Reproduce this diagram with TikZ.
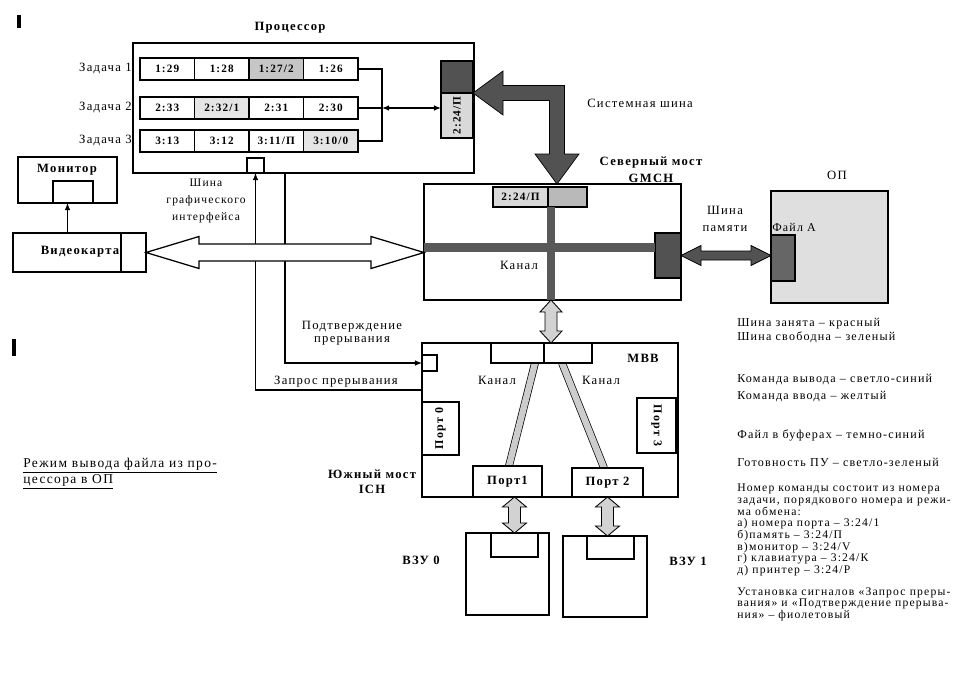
\documentclass[tikz,border=0pt]{standalone}
\usepackage{fontspec}
\setmainfont[LetterSpace=10]{Liberation Serif}
\usetikzlibrary{calc,arrows.meta}

\tikzset{
  box/.style={draw, line width=0.9pt, inner sep=0pt, outer sep=0pt, fill=white},
  sz/.style 2 args={minimum width=#1*0.25mm, minimum height=#2*0.25mm},
  lbl/.style={inner sep=0pt, align=center, font=\fontsize{9}{12}\selectfont},
  blbl/.style={lbl, font=\fontsize{9}{12}\selectfont\bfseries},
  cell/.style={box, sz={54.5}{22}, font=\fontsize{8}{9}\selectfont\bfseries},
  legend/.style={inner sep=0pt, anchor=north west, align=left, font=\fontsize{8.3}{8.3}\selectfont},
  sig/.style={line width=0.8pt, -{Latex[length=5pt,width=4pt]}},
  darkfill/.style={fill=black!68, draw=black, line width=0.5pt},
  lightfill/.style={fill=gray!35, draw=black, line width=0.6pt},
  openfill/.style={fill=white, draw=black, line width=0.9pt},
  darkbar/.style={line width=2.1mm, draw=black!65},
  lightbar/.style={draw=black, line width=0.5pt, double=gray!40, double distance=1.6mm}
}

% block arrows with a head at each end: [style]{from}{to}{shaft}{head}{head length}
\newcommand{\BusH}[6][]{%
  \filldraw[#1] (#2) -- ++(#6,-#5) -- ++(0,#5-#4) -- ($(#2 -| #3)+(-#6,-#4)$) -- ++(0,#4-#5)
    -- (#2 -| #3) -- ++(-#6,#5) -- ++(0,#4-#5) -- ($(#2)+(#6,#4)$) -- ++(0,#5-#4) -- cycle;}
\newcommand{\BusV}[6][]{%
  \filldraw[#1] (#2) -- ++(#5,#6) -- ++(#4-#5,0) -- ($(#2 |- #3)+(#4,-#6)$) -- ++(#5-#4,0)
    -- (#2 |- #3) -- ++(-#5,-#6) -- ++(#5-#4,0) -- ($(#2)+(-#4,#6)$) -- ++(#4-#5,0) -- cycle;}

\begin{document}
\begin{tikzpicture}[x=0.25mm, y=-0.25mm]
\useasboundingbox (0,0) rectangle (973,679);

\fill (17,15) rectangle (21,28);
\fill (12,339) rectangle (16,356);

% processor
\node[box, sz={341}{130}] (proc) at (303.5,108) {};
\node[blbl] (procl) at (290,28) {Процессор};
\node[lbl, anchor=east] (task1) at (132,69) {Задача 1};
\node[lbl, anchor=east] (task2) at (132,108) {Задача 2};
\node[lbl, anchor=east] (task3) at (132,141) {Задача 3};

\node[cell] (c11) at (167.25,69) {1:29};
\node[cell] (c12) at (221.75,69) {1:28};
\node[cell, fill=gray!45] (c13) at (276.25,69) {1:27/2};
\node[cell] (c14) at (330.75,69) {1:26};
\node[cell] (c21) at (167.25,108) {2:33};
\node[cell, fill=gray!20] (c22) at (221.75,108) {2:32/1};
\node[cell] (c23) at (276.25,108) {2:31};
\node[cell] (c24) at (330.75,108) {2:30};
\node[cell] (c31) at (167.25,141) {3:13};
\node[cell] (c32) at (221.75,141) {3:12};
\node[cell] (c33) at (276.25,141) {3:11/П};
\node[cell, fill=gray!20] (c34) at (330.75,141) {3:10/0};

\node[box, sz={32}{32}, fill=black!68] (regD) at (457,77) {};
\node[box, sz={32}{45}, fill=gray!30, font=\fontsize{8}{9}\selectfont\bfseries] (regL) at (457,115.5) {\rotatebox{90}{2:24/П}};
\node[box, sz={17}{15}] (procsq) at (255.5,165.5) {};

\coordinate (junc) at (382,108);
\draw[line width=0.9pt] (c14.east) -- (c14.east -| junc) -- (c34.east -| junc) -- (c34.east);
\draw[line width=0.9pt] (c24.east) -- (junc);
\draw[line width=0.9pt, {Latex[length=5pt,width=4pt]}-{Latex[length=5pt,width=4pt]}] (junc) -- (regL.west |- junc);

% monitor and video card
\node[box, sz={99}{46}] (mon) at (67.5,180) {};
\node[box, sz={40}{22}, anchor=south] (monscr) at ($(mon.south)+(5.5,0)$) {};
\node[blbl] (monl) at (67,170) {Монитор};
\node[box, sz={133}{39}] (vid) at (79.5,252.5) {};
\draw[line width=0.9pt] ($(vid.north east)+(-25,0)$) -- ($(vid.south east)+(-25,0)$);
\node[blbl] (vidl) at (80,252) {Видеокарта};
\draw[sig] (mon.south |- vid.north) -- (mon.south);

% north bridge
\node[box, sz={257}{116}] (nb) at (552.5,242) {};
\node[blbl] (nbl) at (651,170) {Северный мост\\GMCH};
\node[box, sz={55}{20}, fill=gray!30, font=\fontsize{8}{9}\selectfont\bfseries] (nbreg) at (520.5,197) {2:24/П};
\node[box, sz={39}{20}, fill=gray!55] (nbdark) at (567.5,197) {};
\node[box, sz={26}{45}, fill=black!68] (nbport) at (668,255.5) {};
\coordinate (chl) at ($(nbport.west)+(0,-8)$);
\draw[darkbar] (nb.west |- chl) -- (chl);
\coordinate (chv) at ($(nbdark.south west)+(3,0)$);
\draw[darkbar] (chv) -- (chv |- nb.south);
\node[lbl] (nbch) at (519,265) {Канал};

% main memory
\node[box, sz={117}{112}, fill=gray!25] (op) at (829.5,247) {};
\node[lbl] (opl) at (837,175) {ОП};
\node[box, sz={24}{46}, fill=black!60] (opfile) at (783,258) {};
\node[lbl, anchor=west, font=\fontsize{8.5}{10}\selectfont] (filel) at (772,227) {Файл А};

% system bus
\coordinate (nbtop) at (557,184);
\filldraw[darkfill] (regD.south east) -- ++(30,-22) -- ++(0,14.5) -- ($(regD.south east -| nbtop)+(7.5,-7.5)$)
  -- ($(nbtop)+(7.5,-30)$) -- ++(14.5,0) -- (nbtop) -- ++(-22,-30) -- ++(14.5,0)
  -- ($(regD.south east -| nbtop)+(-7.5,7.5)$) -- ($(regD.south east)+(30,7.5)$) -- ++(0,14.5) -- cycle;
\node[lbl] (sysl) at (640,103) {Системная шина};

% memory bus
\coordinate (mbr) at (nbport.east -| opfile.west);
\BusH[darkfill]{nbport.east}{mbr}{4.5}{10}{20}
\node[lbl] (meml) at (725,219) {Шина\\памяти};

% south bridge
\node[box, sz={256}{154}] (sb) at (550,420) {};
\draw[lightbar] (535,363) -- (509,466);
\draw[lightbar] (562,363) -- (604,468);
\node[box, sz={53}{20}] (sbreg1) at (517.5,353) {};
\node[box, sz={48}{20}] (sbreg2) at (568,353) {};
\node[box, sz={15}{16}] (sbsq) at (429.5,363) {};
\node[box, sz={37}{53}, font=\fontsize{8.5}{9}\selectfont\bfseries] (port0) at (440.5,428.5) {\rotatebox{90}{Порт 0}};
\node[box, sz={39}{55}, font=\fontsize{8.5}{9}\selectfont\bfseries] (port3) at (656.5,425.5) {\rotatebox{-90}{Порт 3}};
\node[box, sz={69}{31}, font=\fontsize{9}{10}\selectfont\bfseries] (port1) at (507.5,481.5) {Порт1};
\node[box, sz={71}{29}, font=\fontsize{9}{10}\selectfont\bfseries] (port2) at (607.5,482.5) {Порт 2};
\node[blbl] (mvv) at (643,358) {МВВ};
\node[lbl] (ch1) at (497,380) {Канал};
\node[lbl] (ch2) at (601,380) {Канал};
\node[blbl, font=\fontsize{9}{10.6}\selectfont\bfseries] (sbl) at (372,482) {Южный мост\\ICH};

\coordinate (nsb) at (chv |- nb.south);
\coordinate (nst) at (nsb |- sb.north);
\BusV[lightfill]{nsb}{nst}{6}{11}{12}

% interrupt lines
\draw[sig] ($(sb.north west)+(0,47)$) -| (procsq.south);
\draw[sig] ($(proc.south west)+(152,0)$) |- (sbsq.west);
\node[lbl, font=\fontsize{9}{9.6}\selectfont] (ackl) at (352,333) {Подтверждение\\прерывания};
\node[lbl] (reql) at (336,382) {Запрос прерывания};

% graphics bus
\coordinate (gbr) at (vid.east -| nb.west);
\BusH[openfill]{vid.east}{gbr}{8.5}{16}{53}
\node[lbl, font=\fontsize{8.2}{12.4}\selectfont] (gbl) at (206,201) {Шина\\графического\\интерфейса};

% external storage
\node[box, sz={83}{82}] (vzu0) at (507.5,574) {};
\node[box, sz={47}{24}, anchor=north] (vzu0s) at ($(vzu0.north)+(7,0)$) {};
\node[box, sz={84}{81}] (vzu1) at (605,576.5) {};
\node[box, sz={47}{23}, anchor=north] (vzu1s) at ($(vzu1.north)+(5.5,0)$) {};
\node[blbl] (vzu0l) at (421,560) {ВЗУ 0};
\node[blbl] (vzu1l) at (688,561) {ВЗУ 1};
\coordinate (p1b) at ($(port1.south)+(7,0)$);
\coordinate (v0t) at (p1b |- vzu0.north);
\BusV[lightfill]{p1b}{v0t}{6}{12}{10}
\coordinate (v1t) at (port2.south |- vzu1.north);
\BusV[lightfill]{port2.south}{v1t}{6}{12}{10}

% captions
\node[lbl, anchor=north west, align=left, font=\fontsize{9.6}{9.6}\selectfont] (mode) at (23,458) {\underline{Режим вывода файла из про-}\\\underline{цессора в ОП}};

\node[legend, font=\fontsize{8.6}{10}\selectfont] (leg1) at (737,318) {Шина занята – красный\\Шина свободна – зеленый};
\node[legend, font=\fontsize{8.6}{12}\selectfont] (leg2) at (737,374) {Команда вывода – светло-синий\\Команда ввода – желтый};
\node[legend, font=\fontsize{8.6}{10}\selectfont] (leg3) at (737,430) {Файл в буферах – темно-синий};
\node[legend, font=\fontsize{8.6}{10}\selectfont] (leg4) at (737,458) {Готовность ПУ – светло-зеленый};
\node[legend] (leg5) at (737,484) {Номер команды состоит из номера\\задачи, порядкового номера и режи-\\ма обмена:\\а) номера порта – 3:24/1\\б)память – 3:24/П\\в)монитор – 3:24/V\\г) клавиатура – 3:24/К\\д) принтер – 3:24/Р};
\node[legend] (leg6) at (737,587) {Установка сигналов «Запрос преры-\\вания» и «Подтверждение прерыва-\\ния» – фиолетовый};
\end{tikzpicture}
\end{document}
